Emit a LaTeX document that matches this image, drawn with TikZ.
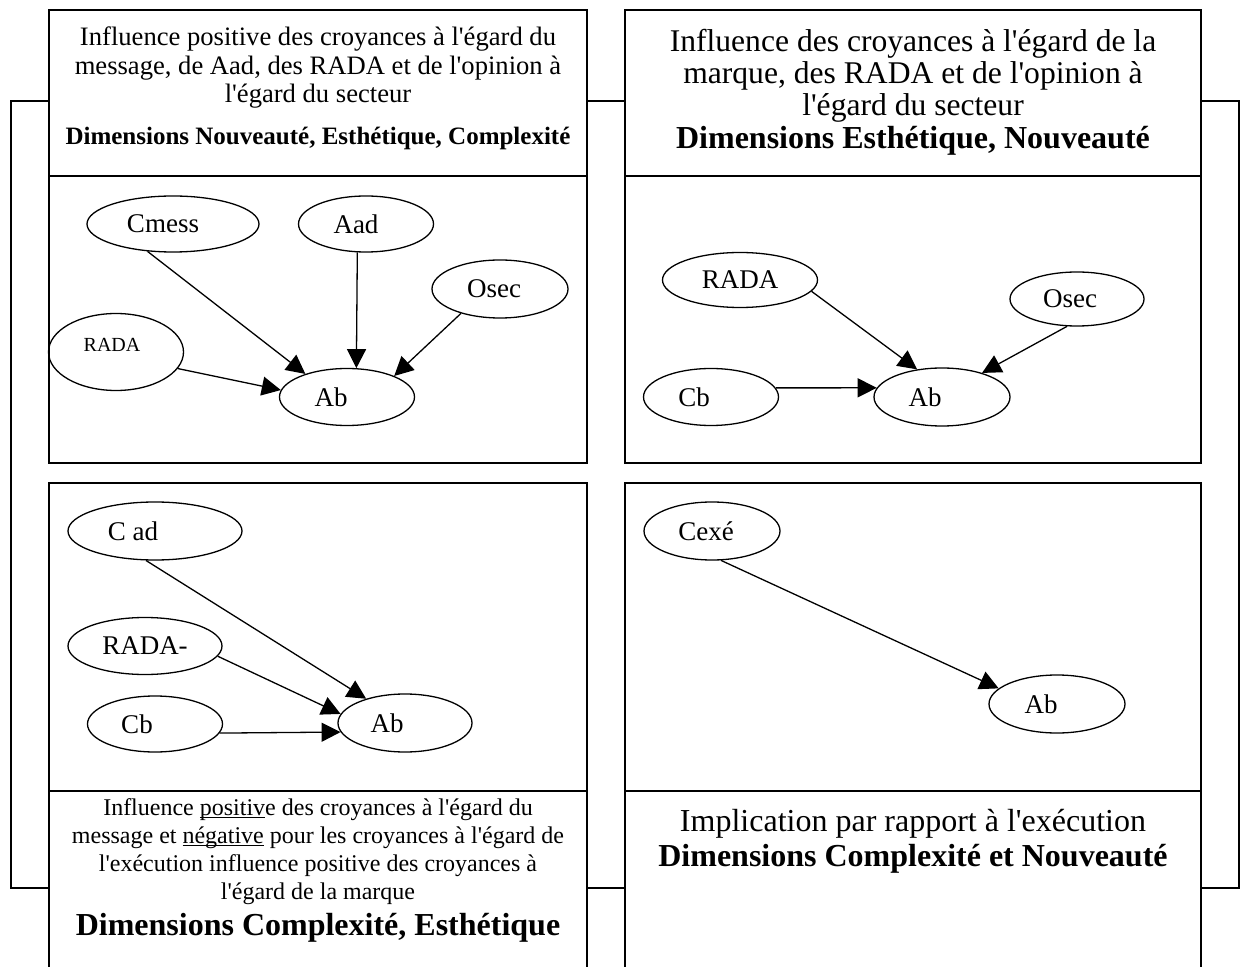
\documentclass[tikz,border=0pt]{standalone}
\usepackage{fontspec}
\setmainfont{Liberation Serif}[Ligatures=TeXOff]
\usetikzlibrary{shapes.geometric, arrows.meta}
\newcommand\myul[1]{\setbox0\hbox{#1}\rlap{\rule[-1.6pt]{\wd0}{0.6pt}}\box0\relax}
\begin{document}
\begin{tikzpicture}[x=0.5pt, y=-0.5pt,
  box/.style={draw, line width=1pt, fill=white},
  frame/.style={draw, line width=1pt},
  ell/.style={draw, ellipse, inner sep=0pt, line width=0.65pt, font=\fontsize{13.5}{15}\selectfont},
  arr/.style={-{Triangle[length=9.5pt,width=9.5pt]}, line width=0.65pt},
  txt/.style={anchor=base, inner sep=0pt},
  tlfont/.style={font=\fontsize{13.3}{14}\selectfont},
  trfont/.style={font=\fontsize{15.8}{16}\selectfont},
  blfont/.style={font=\fontsize{12}{14}\selectfont},
  bigbold/.style={font=\fontsize{16}{18}\selectfont\bfseries},
]
\useasboundingbox (0,0) rectangle (1241,967);
\clip (0,0) rectangle (1241,967);
% outer frame
\draw[frame] (11,101) rectangle (1239,888);
% boxes
\draw[box] (49,10) rectangle (587,176);
\draw[box] (49,176) rectangle (587,463);
\draw[box] (625,10) rectangle (1201,176);
\draw[box] (625,176) rectangle (1201,463);
\draw[box] (49,483) rectangle (587,791);
\draw[box] (49,791) rectangle (587,980);
\draw[box] (625,483) rectangle (1201,791);
\draw[box] (625,791) rectangle (1201,980);

% top-left header
\node[txt, tlfont] (tl1) at (318,46) {Influence positive des croyances à l'égard du};
\node[txt, tlfont] (tl2) at (318,74.5) {message, de Aad, des RADA et de l'opinion à};
\node[txt, tlfont] (tl3) at (318,103) {l'égard du secteur};
\node[txt, font=\fontsize{12.5}{14}\selectfont\bfseries] (tl4) at (318,145) {Dimensions Nouveauté, Esthétique, Complexité};

% top-right header
\node[txt, trfont] (tr1) at (913,52) {Influence des croyances à l'égard de la};
\node[txt, trfont] (tr2) at (913,84) {marque, des RADA et de l'opinion à};
\node[txt, trfont] (tr3) at (913,116) {l'égard du secteur};
\node[txt, bigbold] (tr4) at (913,149) {Dimensions Esthétique, Nouveauté};

% bottom-left text
\node[txt, blfont] (bl1) at (318,815) {Influence \myul{positiv}e des croyances à l'égard du};
\node[txt, blfont] (bl2) at (318,843) {message et \myul{négative} pour les croyances à l'égard de};
\node[txt, blfont] (bl3) at (318,871) {l'exécution influence positive des croyances à};
\node[txt, blfont] (bl4) at (318,899) {l'égard de la marque};
\node[txt, bigbold] (bl5) at (318,935) {Dimensions Complexité, Esthétique};

% bottom-right text
\node[txt, font=\fontsize{16}{18}\selectfont] (br1) at (913,831) {Implication par rapport à l'exécution};
\node[txt, bigbold] (br2) at (913,866) {Dimensions Complexité et Nouveauté};

% graph top-left
\node[ell, minimum width=86pt, minimum height=28pt] (cmess) at (173,224) {Cmess\kern10pt};
\node[ell, minimum width=67.5pt, minimum height=28pt] (aad) at (366,224) {Aad\kern10pt};
\node[ell, minimum width=68pt, minimum height=29pt] (osec) at (500,289) {Osec\kern6pt};
\node[ell, minimum width=67.5pt, minimum height=38.5pt, font=\fontsize{10}{12}\selectfont] (rada) at (116,352) {\raisebox{7pt}{RADA}\kern4pt};
\node[ell, minimum width=67.5pt, minimum height=28.5pt] (ab) at (347,397) {Ab\kern16pt};
\draw[arr] (cmess.-133) -- (ab.151);
\draw[arr] (aad.-107) -- (ab.72);
\draw[arr] (osec.-148) -- (ab.24);
\draw[arr] (rada.-15) -- (ab.174);

% graph top-right
\node[ell, minimum width=77.5pt, minimum height=27.5pt] (rada2) at (740,280) {RADA};
\node[ell, minimum width=67pt, minimum height=27pt] (osec2) at (1077,299) {Osec\kern7pt};
\node[ell, minimum width=67.5pt, minimum height=28.5pt] (cb2) at (711,397) {Cb\kern17pt};
\node[ell, minimum width=68pt, minimum height=29pt] (ab2) at (942,397) {Ab\kern17pt};
\draw[arr] (rada2.-9) -- (ab2.132);
\draw[arr] (osec2.-110) -- (ab2.31);
\draw[arr] (cb2.8) -- (ab2.172);

% graph bottom-left
\node[ell, minimum width=87pt, minimum height=29pt] (cad) at (155,531) {C ad\kern22pt};
\node[ell, minimum width=77pt, minimum height=28.5pt] (radam) at (145,646) {RADA-};
\node[ell, minimum width=67.5pt, minimum height=28pt] (cb3) at (155,724) {Cb\kern18pt};
\node[ell, minimum width=67pt, minimum height=29pt] (ab3) at (405,723) {Ab\kern18pt};
\draw[arr] (cad.-107) -- (ab3.148);
\draw[arr] (radam.-8) -- (ab3.172);
\draw[arr] (cb3.-8) -- (ab3.-172);

% graph bottom-right
\node[ell, minimum width=68pt, minimum height=29pt] (cexe) at (712,531) {Cexé\kern6pt};
\node[ell, minimum width=68pt, minimum height=29pt] (ab4) at (1057,704) {Ab\kern16pt};
\draw[arr] (cexe.-73) -- (ab4.165);
\end{tikzpicture}
\end{document}
